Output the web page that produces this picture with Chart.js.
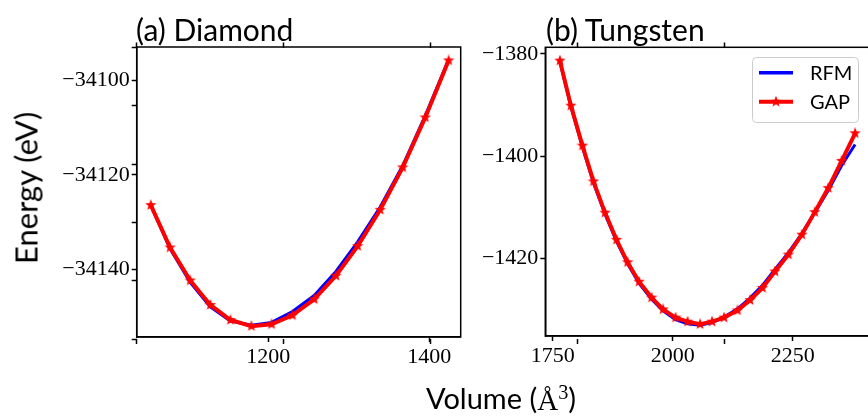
<!DOCTYPE html>
<html>
<head>
<meta charset="utf-8">
<script src="https://cdn.jsdelivr.net/npm/chart.js@4.4.1/dist/chart.umd.min.js"></script>
<style>
  html, body { margin: 0; padding: 0; background: #fff; width: 868px; height: 417px; overflow: hidden; }
  canvas { position: absolute; left: 0; top: 0; }
  .lbl { position: absolute; font-family: Lato, "Open Sans", sans-serif; color: #000; white-space: nowrap; line-height: 1; }
  .serif { font-family: "Liberation Serif", serif; }
</style>
</head>
<body>
<canvas id="frame" width="900" height="417"></canvas>
<canvas id="diamond" width="900" height="417"></canvas>
<canvas id="tungsten" width="900" height="417"></canvas>

<div class="lbl" style="left:136px; top:14px; font-size:30px;">(a) Diamond</div>
<div class="lbl" style="left:546px; top:14px; font-size:30px;">(b) Tungsten</div>
<div class="lbl" style="left:26px; top:188px; font-size:31px; transform: translate(-50%, -50%) rotate(-90deg);">Energy (eV)</div>
<div class="lbl" style="left:501px; top:398px; font-size:29px; transform: translate(-50%, -50%);">Volume (<span class="serif">Å<sup style="font-size:0.7em;">3</sup></span>)</div>

<script>
// ---- data ----
const diamondVolume = [1054, 1078, 1103, 1128, 1153, 1179, 1204, 1230, 1257, 1284, 1311, 1339, 1367, 1395, 1424];
const diamondGAP = [-34126.4, -34135.4, -34142.4, -34147.6, -34150.8, -34152.1, -34151.7, -34149.8, -34146.4, -34141.4, -34135.1, -34127.4, -34118.4, -34107.8, -34095.7];
const diamondRFM = [-34126.4, -34135.7, -34142.8, -34148.0, -34151.0, -34151.9, -34151.3, -34149.0, -34145.6, -34140.5, -34134.2, -34126.8, -34118.0, -34107.4, -34095.5];

const tungstenVolume = [1765, 1788, 1812, 1835, 1859, 1883, 1906, 1930, 1956, 1980, 2006, 2031, 2057, 2082, 2107, 2135, 2161, 2187, 2213, 2241, 2269, 2296, 2324, 2352, 2380];
const tungstenGAP = [-1381.3, -1390.1, -1397.9, -1404.9, -1411.0, -1416.3, -1420.7, -1424.5, -1427.6, -1429.9, -1431.5, -1432.3, -1432.8, -1432.3, -1431.5, -1430.1, -1428.1, -1425.7, -1422.5, -1419.2, -1415.3, -1410.9, -1406.2, -1400.9, -1395.5];
const tungstenRFM = [-1381.5, -1390.3, -1398.2, -1405.2, -1411.3, -1416.6, -1421.0, -1424.8, -1427.9, -1430.2, -1431.9, -1432.7, -1433.0, -1432.5, -1431.4, -1429.8, -1427.7, -1425.2, -1422.1, -1418.8, -1415.1, -1411.0, -1406.7, -1401.8, -1397.7];

const diamondXTicks = [1200, 1400];
const diamondYTicks = [-34100, -34120, -34140];
const tungstenXTicks = [1750, 2000, 2250];
const tungstenYTicks = [-1380, -1400, -1420];
const frameTicks = [0, 0.2, 0.4, 0.6, 0.8, 1];

const CW = 900, CH = 417;

function starImage(size, color) {
    const c = document.createElement("canvas");
    c.width = c.height = size;
    const g = c.getContext("2d");
    const R = size / 2, r = R * 0.42;
    g.beginPath();
    for (let i = 0; i < 10; i++) {
        const a = -Math.PI / 2 + i * Math.PI / 5;
        const rad = i % 2 ? r : R;
        g.lineTo(R + rad * Math.cos(a), R + rad * Math.sin(a));
    }
    g.closePath();
    g.fillStyle = color;
    g.fill();
    return c;
}
const star = starImage(12, "#ff0000");

function fmt(v) {
    return (v < 0 ? "\u2212" : "") + Math.abs(v);
}

function fixedTicks(list) {
    return function (scale) {
        scale.ticks = list.map(v => ({ value: v }));
    };
}

function axis(min, max, ticks, fit) {
    return {
        type: "linear",
        min: min,
        max: max,
        afterBuildTicks: fixedTicks(ticks),
        afterFit: fit,
        grid: { drawOnChartArea: false, tickLength: 5, tickWidth: 1.5, tickColor: "#000" },
        border: { display: true, color: "#000", width: 1.5 },
        ticks: {
            color: "#000",
            padding: 2,
            font: { family: "Liberation Serif", size: 22 },
            callback: fmt
        }
    };
}

function points(xs, ys) {
    return xs.map((x, i) => ({ x: x, y: ys[i] }));
}

// full box around each panel
const boxFrame = {
    id: "boxFrame",
    afterDraw(chart) {
        const a = chart.chartArea;
        const ctx = chart.ctx;
        ctx.save();
        ctx.strokeStyle = "#000";
        ctx.lineWidth = 1.5;
        ctx.strokeRect(a.left, a.top, a.right - a.left, a.bottom - a.top);
        ctx.restore();
    }
};

// Legend box drawn inside the tungsten panel
const legendBox = {
    id: "legendBox",
    afterDraw(chart) {
        const ctx = chart.ctx;
        ctx.save();
        ctx.beginPath();
        ctx.roundRect(752.5, 57.5, 106, 65, 4);
        ctx.fillStyle = "rgba(255,255,255,0.8)";
        ctx.fill();
        ctx.strokeStyle = "#cccccc";
        ctx.lineWidth = 1;
        ctx.stroke();

        ctx.lineCap = "butt";
        ctx.strokeStyle = "#0000ff";
        ctx.lineWidth = 3.5;
        ctx.beginPath(); ctx.moveTo(759, 72.7); ctx.lineTo(793, 72.7); ctx.stroke();
        ctx.strokeStyle = "#ff0000";
        ctx.lineWidth = 4;
        ctx.beginPath(); ctx.moveTo(759, 101.7); ctx.lineTo(793, 101.7); ctx.stroke();
        ctx.drawImage(star, 776 - 6, 101.7 - 6);

        ctx.fillStyle = "#000";
        ctx.font = "20px Lato";
        ctx.textBaseline = "middle";
        ctx.fillText("RFM", 810, 73.5);
        ctx.fillText("GAP", 810, 102.5);
        ctx.restore();
    }
};

function makePanel(id, volume, rfm, gap, xTicks, yTicks, area, lim, plugins) {
    return new Chart(document.getElementById(id), {
        type: "line",
        data: {
            datasets: [
                {
                    label: "GAP",
                    data: points(volume, gap),
                    borderColor: "#ff0000",
                    borderWidth: 4,
                    pointStyle: star,
                    pointRadius: 6,
                    tension: 0,
                    order: 0
                },
                {
                    label: "RFM",
                    data: points(volume, rfm),
                    borderColor: "#0000ff",
                    borderWidth: 3,
                    pointRadius: 0,
                    tension: 0,
                    order: 1
                }
            ]
        },
        options: {
            responsive: false,
            animation: false,
            events: [],
            layout: { padding: { left: 0, top: area.top, right: CW - area.right, bottom: 0 } },
            plugins: { legend: { display: false }, tooltip: { enabled: false } },
            scales: {
                x: axis(lim.x0, lim.x1, xTicks, s => { s.height = CH - area.bottom; }),
                y: axis(lim.y0, lim.y1, yTicks, s => { s.width = area.left; })
            }
        },
        plugins: [boxFrame].concat(plugins || [])
    });
}

// Hidden full-figure axes: only its tick marks show
function frameAxis(position, fit) {
    return {
        type: "linear",
        position: position,
        min: 0,
        max: 1,
        afterBuildTicks: fixedTicks(frameTicks),
        afterFit: fit,
        grid: { drawOnChartArea: false, tickLength: 5, tickWidth: 1.5, tickColor: "#000" },
        border: { display: false },
        ticks: { display: false }
    };
}

new Chart(document.getElementById("frame"), {
    type: "scatter",
    data: { datasets: [] },
    options: {
        responsive: false,
        animation: false,
        events: [],
        layout: { padding: { left: 0, top: 47.5, right: CW - 872, bottom: 0 } },
        plugins: { legend: { display: false }, tooltip: { enabled: false } },
        scales: {
            x: frameAxis("bottom", s => { s.height = CH - 339; }),
            x2: frameAxis("top", s => { s.height = 0; }),
            y: frameAxis("left", s => { s.width = 136.7; })
        }
    }
});

makePanel("diamond", diamondVolume, diamondRFM, diamondGAP, diamondXTicks, diamondYTicks,
    { left: 136.7, top: 47, right: 460.7, bottom: 337 },
    { x0: 1036.5, x1: 1439, y0: -34154.4, y1: -34092.85 });

makePanel("tungsten", tungstenVolume, tungstenRFM, tungstenGAP, tungstenXTicks, tungstenYTicks,
    { left: 545.3, top: 47.3, right: 872, bottom: 336 },
    { x0: 1734.6, x1: 2415.2, y0: -1435.1, y1: -1378.7 },
    [legendBox]);
</script>
</body>
</html>
